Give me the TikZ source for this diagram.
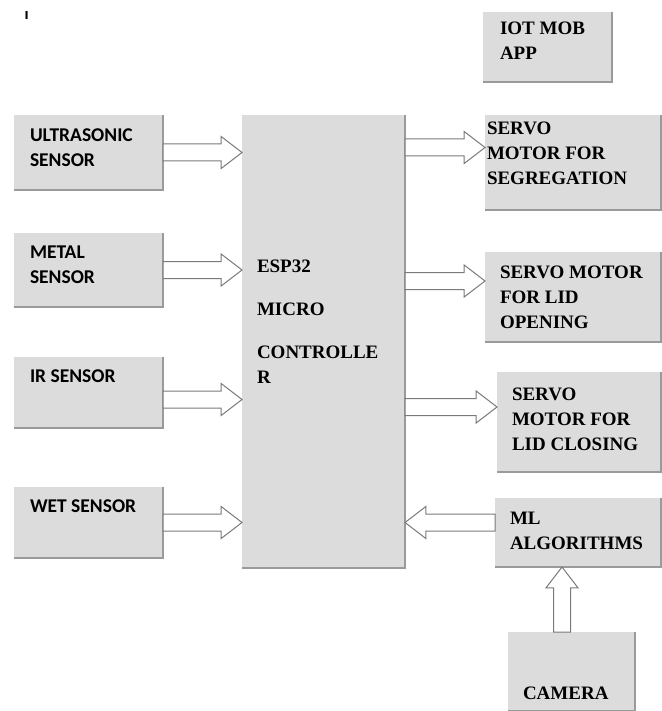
\documentclass[tikz,border=0pt]{standalone}
\usepackage{fontspec}
\setmainfont{Liberation Serif}
\newfontfamily\sansb{Carlito}
\newfontfamily\markfont{DejaVu Sans}
\usetikzlibrary{shapes.arrows,calc}
\definecolor{boxgray}{HTML}{DCDCDC}
\definecolor{shadowgray}{HTML}{9A9A9A}
\definecolor{arrowgray}{HTML}{7A7A7A}
\newcommand\serlbl[1]{\parbox[t]{7cm}{\fontsize{19}{25}\selectfont\bfseries\raggedright #1}}
\newcommand\sanlbl[1]{\parbox[t]{7cm}{\sansb\fontsize{19.5}{25}\selectfont\bfseries\raggedright #1}}
\newcommand\blockarrow[2]{%
  \path let \p1=(#1), \p2=(#2), \n1={atan2(\y2-\y1,\x2-\x1)}, \n2={veclen(\x2-\x1,\y2-\y1)} in
    node[barrow, minimum height=\n2, rotate=\n1, anchor=tail] at (\p1) {};}
\newcommand\shadowbox[1]{\draw[boxshadow] (#1.south west) -- (#1.south east) -- (#1.north east);}
\tikzset{
  box/.style={fill=boxgray, draw=none, inner sep=0, outer sep=0, anchor=north west},
  lbl/.style={inner sep=0, outer sep=0, anchor=base west},
  boxshadow/.style={draw=shadowgray, line width=2.5pt},
  barrow/.style={single arrow, draw=arrowgray, fill=white, line width=1pt,
    inner xsep=0pt, inner ysep=8pt, minimum width=0pt, outer sep=0pt,
    single arrow head extend=7.5pt, single arrow tip angle=75},
}
\begin{document}
\begin{tikzpicture}[x=1pt,y=-1pt]
\useasboundingbox[fill=white] (0,0) rectangle (661,711);
% boxes
\node[box, minimum width=149pt, minimum height=75pt] (ultra) at (14,115) {};
\node[box, minimum width=149pt, minimum height=74pt] (metal) at (14,233) {};
\node[box, minimum width=149pt, minimum height=71pt] (ir) at (14,357) {};
\node[box, minimum width=149pt, minimum height=71pt] (wet) at (14,487) {};
\node[box, minimum width=163pt, minimum height=453pt] (esp) at (242,115) {};
\node[box, minimum width=129pt, minimum height=70pt] (iot) at (483,12) {};
\node[box, minimum width=176pt, minimum height=95pt] (seg) at (485,115) {};
\node[box, minimum width=176pt, minimum height=90pt] (open) at (485,252) {};
\node[box, minimum width=164pt, minimum height=100pt] (close) at (497,372) {};
\node[box, minimum width=166pt, minimum height=69pt] (ml) at (495,498) {};
\node[box, minimum width=127pt, minimum height=79pt] (cam) at (508,632) {};
\foreach \b in {ultra,metal,ir,wet,esp,iot,seg,open,close,ml,cam} {\shadowbox{\b}}
% labels
\node[lbl] (mark) at (24.5,20) {\markfont\bfseries\fontsize{11}{11}\selectfont I};
\node[lbl] (ultraT) at ($(ultra.north west)+(16,27)$) {\sanlbl{ULTRASONIC\\SENSOR}};
\node[lbl] (metalT) at ($(metal.north west)+(16,25)$) {\sanlbl{METAL\\SENSOR}};
\node[lbl] (irT) at ($(ir.north west)+(16,25)$) {\sanlbl{IR SENSOR}};
\node[lbl] (wetT) at ($(wet.north west)+(16,25)$) {\sanlbl{WET SENSOR}};
\node[lbl] (espT) at ($(esp.north west)+(15,157)$) {\serlbl{ESP32\\[18pt]MICRO\\[18pt]CONTROLLE\\R}};
\node[lbl] (iotT) at ($(iot.north west)+(17,23)$) {\serlbl{IOT MOB\\APP}};
\node[lbl] (segT) at ($(seg.north west)+(2,20)$) {\serlbl{SERVO\\MOTOR FOR\\SEGREGATION}};
\node[lbl] (openT) at ($(open.north west)+(15,26)$) {\serlbl{SERVO MOTOR\\FOR LID\\OPENING}};
\node[lbl] (closeT) at ($(close.north west)+(15,28)$) {\serlbl{SERVO\\MOTOR FOR\\LID CLOSING}};
\node[lbl] (mlT) at ($(ml.north west)+(15,26)$) {\serlbl{ML\\ALGORITHMS}};
\node[lbl] (camT) at ($(cam.north west)+(15,67)$) {\serlbl{CAMERA}};
% arrows
\coordinate (irA) at ($(ir.east)+(0,7)$);
\coordinate (segA) at ($(seg.west)+(0,-15)$);
\coordinate (opA) at ($(open.west)+(0,-16)$);
\coordinate (clA) at ($(close.west)+(0,-15)$);
\coordinate (mlA) at ($(ml.west)+(0,-10)$);
\coordinate (camA) at ($(cam.north)+(-9.5,0)$);
\blockarrow{ultra.east}{esp.west |- ultra.east}
\blockarrow{metal.east}{esp.west |- metal.east}
\blockarrow{irA}{esp.west |- irA}
\blockarrow{wet.east}{esp.west |- wet.east}
\blockarrow{esp.east |- segA}{segA}
\blockarrow{esp.east |- opA}{opA}
\blockarrow{esp.east |- clA}{clA}
\blockarrow{mlA}{esp.east |- mlA}
\blockarrow{camA}{ml.south -| camA}
\end{tikzpicture}
\end{document}
